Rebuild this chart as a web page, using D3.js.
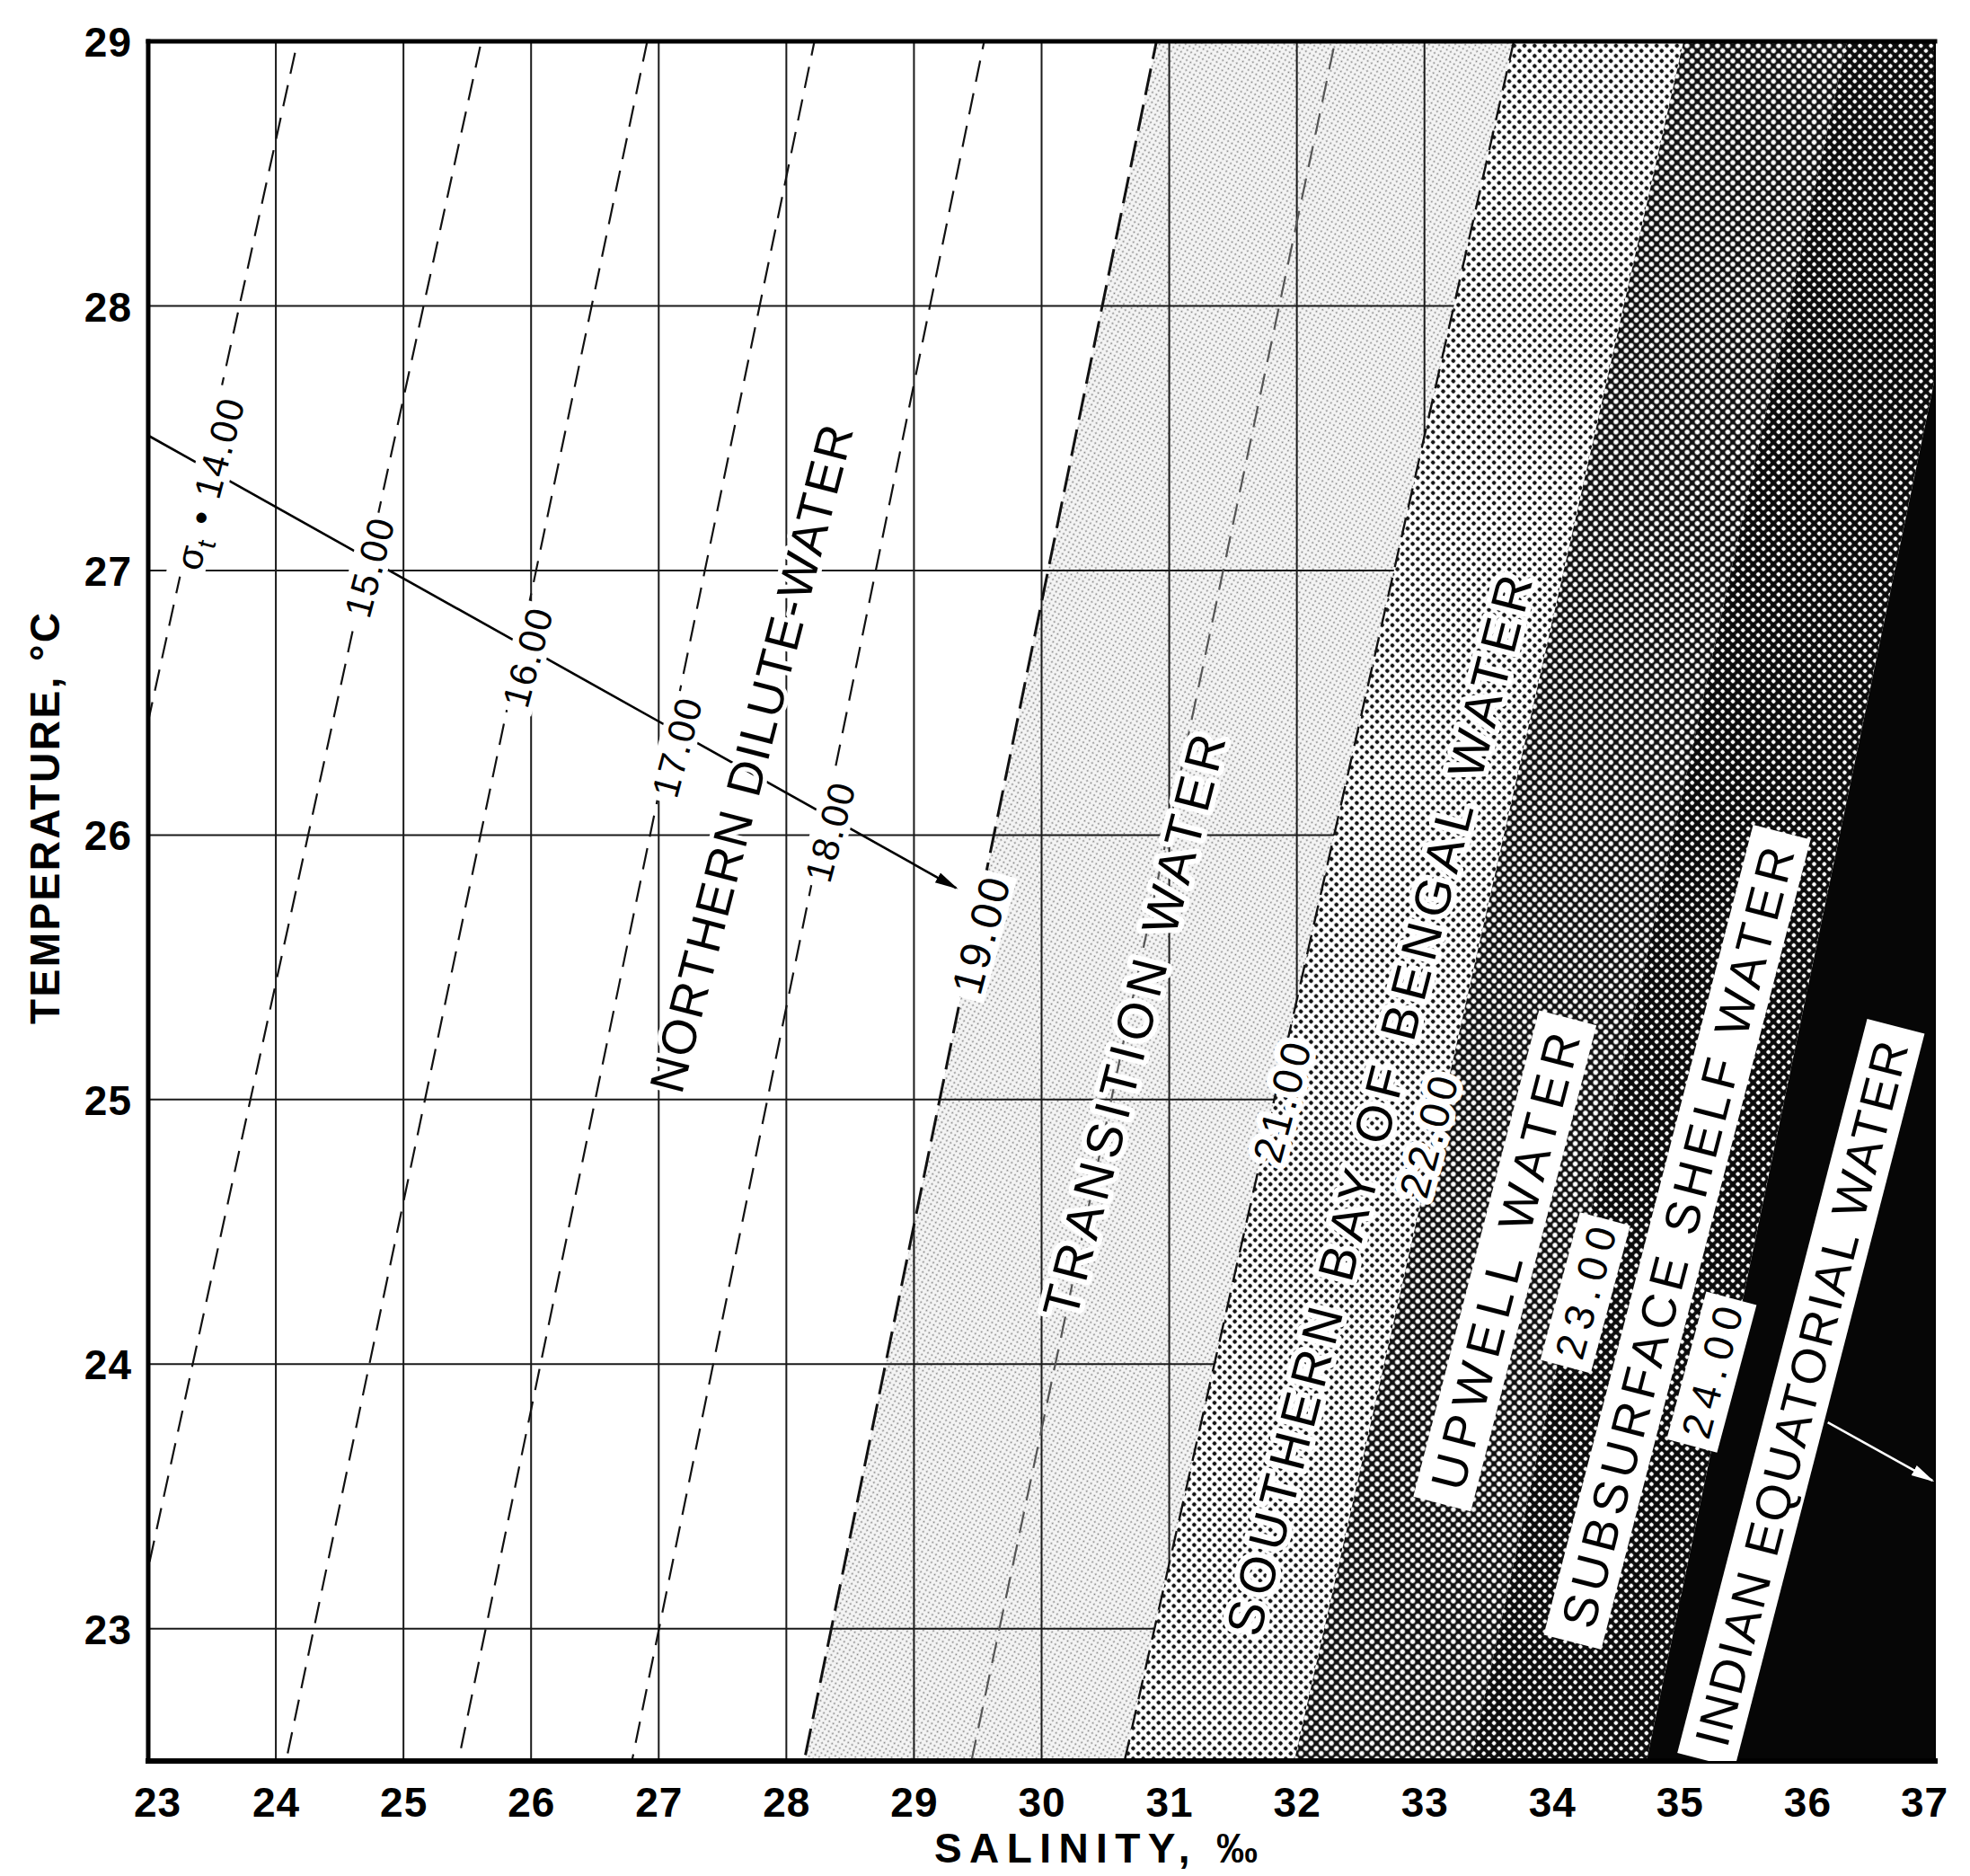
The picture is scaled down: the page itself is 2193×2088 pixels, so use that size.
<!DOCTYPE html>
<html>
<head>
<meta charset="utf-8">
<script src="https://cdn.jsdelivr.net/npm/d3@7"></script>
<style>
html,body{margin:0;padding:0;background:#fff;}
svg{display:block;}
</style>
</head>
<body>
<svg id="chart" width="2193" height="2088"></svg>
<script>
// ---------------- DATA ----------------
const salinityTicks = [23,24,25,26,27,28,29,30,31,32,33,34,35,36,37];
const temperatureTicks = [23,24,25,26,27,28,29];
// sigma-t isopycnals: salinity where each crosses T = 29 °C and T = 22.5 °C
const sigmaLevels        = [14,    15,    16,    17,    18,    19,    20,    21,    22,    23,    24];
const sigmaSalinityAt29  = [24.17, 25.61, 26.91, 28.22, 29.55, 30.90, 32.30, 33.70, 35.03, 36.31, 37.55];
const sigmaSalinityAt225 = [21.21, 22.67, 24.08, 25.43, 26.79, 28.14, 29.45, 30.65, 31.98, 33.36, 34.74];
// water masses, bounded by isopycnals (null = plot edge)
const waterMasses      = ["NORTHERN DILUTE-WATER","TRANSITION WATER","SOUTHERN BAY OF BENGAL WATER","UPWELL WATER","SUBSURFACE SHELF WATER","INDIAN EQUATORIAL WATER"];
const waterMassLower   = [null, 19, 21, 22, 23, 24];
const waterMassUpper   = [19,   21, 22, 23, 24, null];
const waterMassLabelS  = [27.72, 30.72, 32.64, 33.63, 34.98, 35.95];
const waterMassLabelT  = [26.29, 25.28, 24.98, 24.39, 24.48, 23.89];
// sigma-t value labels
const sigmaLabelText = ["14.00","15.00","16.00","17.00","18.00","19.00","21.00","22.00","23.00","24.00"];
const sigmaLabelS    = [23.48, 24.73, 25.97, 27.14, 28.34, 29.52, 31.88, 33.03, 34.26, 35.25];
const sigmaLabelT    = [27.33, 27.01, 26.67, 26.33, 26.01, 25.62, 24.99, 24.86, 24.27, 23.97];
// density-increase arrow (salinity, temperature)
const densityArrowS = [23.00, 29.33];
const densityArrowT = [27.51, 25.80];
// arrow pointing to Indian Equatorial Water
const equatorialArrowS = [36.16, 36.98];
const equatorialArrowT = [23.78, 23.56];

// ---------------- SCALES ----------------
const x = d3.scaleLinear().domain([23,37]).range([165,2154]);
const y = d3.scaleLinear().domain([22.5,29]).range([1960,46]);
const svg = d3.select("#chart");
const defs = svg.append("defs");
defs.append("clipPath").attr("id","plotClip").append("rect")
  .attr("x",x(23)).attr("y",y(29)).attr("width",x(37)-x(23)).attr("height",y(22.5)-y(29));

svg.append("rect").attr("width",2193).attr("height",2088).attr("fill","#fff");

function pattern(id,size,bg,dot,r,angle){
  const p = defs.append("pattern").attr("id",id).attr("patternUnits","userSpaceOnUse")
    .attr("width",size).attr("height",size).attr("patternTransform",`rotate(${angle})`);
  p.append("rect").attr("width",size).attr("height",size).attr("fill",bg);
  p.append("circle").attr("cx",size/2).attr("cy",size/2).attr("r",r).attr("fill",dot);
}
pattern("pTrans",5,"#f4f4f4","#7c7c7c",0.95,30);
pattern("pSouth",8,"#ffffff","#141414",2.35,45);
pattern("pUpwell",8,"#121212","#ffffff",2.7,45);
pattern("pShelf",8,"#0c0c0c","#ffffff",2.3,45);
const massFill = [null,"url(#pTrans)","url(#pSouth)","url(#pUpwell)","url(#pShelf)","#060606"];

function marker(id,color){
  defs.append("marker").attr("id",id).attr("viewBox","0 0 10 10").attr("refX",9).attr("refY",5)
    .attr("markerUnits","userSpaceOnUse").attr("markerWidth",26).attr("markerHeight",26).attr("orient","auto")
    .append("path").attr("d","M0,2.6 L10,5 L0,7.4 Z").attr("fill",color);
}
marker("arrB","#000");
marker("arrW","#fff");

const idx = s => sigmaLevels.indexOf(s);
function massPolygon(i){
  const lo = waterMassLower[i], hi = waterMassUpper[i];
  const lt = lo===null ? 22 : sigmaSalinityAt29[idx(lo)];
  const lb = lo===null ? 22 : sigmaSalinityAt225[idx(lo)];
  const ut = hi===null ? 38 : sigmaSalinityAt29[idx(hi)];
  const ub = hi===null ? 38 : sigmaSalinityAt225[idx(hi)];
  return [[lt,29],[ut,29],[ub,22.5],[lb,22.5]].map(p=>[x(p[0]),y(p[1])]);
}
const line = d3.line();

// ---------------- TRANSITION SHADE ----------------
const plotG = svg.append("g").attr("clip-path","url(#plotClip)");
plotG.append("path").attr("d",line(massPolygon(1))+"Z").attr("fill",massFill[1]);

// ---------------- GRID ----------------
plotG.selectAll("line.vgrid").data(salinityTicks.filter(d=>d>23&&d<37)).join("line")
  .attr("class","vgrid").attr("x1",d=>x(d)).attr("x2",d=>x(d)).attr("y1",y(29)).attr("y2",y(22.5))
  .attr("stroke","#1a1a1a").attr("stroke-width",2);
plotG.selectAll("line.hgrid").data(temperatureTicks.filter(d=>d<29)).join("line")
  .attr("class","hgrid").attr("y1",d=>y(d)).attr("y2",d=>y(d)).attr("x1",x(23)).attr("x2",x(37))
  .attr("stroke","#1a1a1a").attr("stroke-width",2);

// ---------------- ISOPYCNALS (dashed) ----------------
const iso = sigmaLevels.map((s,i)=>({s, top:sigmaSalinityAt29[i], bot:sigmaSalinityAt225[i]}));
plotG.selectAll("line.iso").data(iso.filter(d=>d.s<=20)).join("line")
  .attr("class","iso")
  .attr("x1",d=>x(d.top)).attr("y1",y(29)).attr("x2",d=>x(d.bot)).attr("y2",y(22.5))
  .attr("stroke",d=>d.s===20?"#555":"#111")
  .attr("stroke-width",d=>d.s===19?3:2.2)
  .attr("stroke-dasharray",d=>d.s===19?"30,11":"24,13")
  .attr("stroke-dashoffset",d=>d.s*7);

// ---------------- DARKER WATER MASSES ----------------
[2,3,4,5].forEach(i=>{
  plotG.append("path").attr("d",line(massPolygon(i))+"Z").attr("fill",massFill[i]);
});
plotG.selectAll("line.iso21").data(iso.filter(d=>d.s===21)).join("line")
  .attr("class","iso21")
  .attr("x1",d=>x(d.top)).attr("y1",y(29)).attr("x2",d=>x(d.bot)).attr("y2",y(22.5))
  .attr("stroke","#111").attr("stroke-width",2.4).attr("stroke-dasharray","22,12");

// ---------------- FRAME ----------------
const frame = svg.append("g").attr("stroke","#000").attr("stroke-linecap","square");
frame.append("line").attr("x1",x(23)).attr("x2",x(37)).attr("y1",y(29)).attr("y2",y(29)).attr("stroke-width",5);
frame.append("line").attr("x1",x(23)).attr("x2",x(23)).attr("y1",y(29)).attr("y2",y(22.5)).attr("stroke-width",5);
frame.append("line").attr("x1",x(23)).attr("x2",x(37)).attr("y1",y(22.5)).attr("y2",y(22.5)).attr("stroke-width",6);
frame.append("line").attr("x1",x(37)).attr("x2",x(37)).attr("y1",y(29)).attr("y2",y(22.5)).attr("stroke-width",2);

// ---------------- ARROWS ----------------
svg.append("line")
  .attr("x1",x(densityArrowS[0])).attr("y1",y(densityArrowT[0]))
  .attr("x2",x(densityArrowS[1])).attr("y2",y(densityArrowT[1]))
  .attr("stroke","#000").attr("stroke-width",2.6).attr("marker-end","url(#arrB)");
svg.append("line")
  .attr("x1",x(equatorialArrowS[0])).attr("y1",y(equatorialArrowT[0]))
  .attr("x2",x(equatorialArrowS[1])).attr("y2",y(equatorialArrowT[1]))
  .attr("stroke","#fff").attr("stroke-width",2.6).attr("marker-end","url(#arrW)");

// ---------------- LABELS ----------------
const labelFont = "'Liberation Sans', Arial, sans-serif";
const massStyle = [
  {len:765, fs:54, halo:10},
  {len:668, fs:56, halo:12},
  {len:1216,fs:56, halo:12},
  {len:523, fs:54, box:[66,18]},
  {len:895, fs:54, box:[66,18]},
  {len:808, fs:54, box:[66,18]}
];
const lblG = svg.append("g").attr("clip-path","url(#plotClip)");
waterMasses.forEach((t,i)=>{
  const st = massStyle[i];
  const g = lblG.append("g").attr("transform",`translate(${x(waterMassLabelS[i])},${y(waterMassLabelT[i])}) rotate(-75.5)`);
  if(st.box){
    g.append("rect").attr("x",-st.len/2-st.box[1]).attr("y",-st.box[0]/2)
      .attr("width",st.len+2*st.box[1]).attr("height",st.box[0]).attr("fill","#fff");
  }
  const tx = g.append("text").attr("text-anchor","middle").attr("dy","0.36em")
    .attr("font-family",labelFont).attr("font-size",st.fs).attr("fill","#000")
    .attr("textLength",st.len).attr("lengthAdjust","spacing").text(t);
  if(st.halo){
    tx.attr("stroke","#fff").attr("stroke-width",st.halo).attr("stroke-linejoin","round").attr("paint-order","stroke");
  }
});

const sigStyle = [
  {len:206, fs:42, gap:[42,6]},
  {len:112, fs:42, gap:[42,6]},
  {len:112, fs:42, gap:[42,6]},
  {len:112, fs:42, gap:[42,6]},
  {len:112, fs:42, gap:[42,6]},
  {len:132, fs:48, gap:[46,6]},
  {len:136, fs:46, halo:14},
  {len:138, fs:46, halo:14},
  {len:150, fs:46, box:[58,10]},
  {len:150, fs:46, box:[58,10]}
];
sigmaLabelText.forEach((t,i)=>{
  const st = sigStyle[i];
  const g = lblG.append("g").attr("transform",`translate(${x(sigmaLabelS[i])},${y(sigmaLabelT[i])}) rotate(-75)`);
  const b = st.box || st.gap;
  if(b){
    g.append("rect").attr("x",-st.len/2-b[1]).attr("y",-b[0]/2)
      .attr("width",st.len+2*b[1]).attr("height",b[0]).attr("fill","#fff");
  }
  const tx = g.append("text").attr("text-anchor","middle").attr("dy","0.36em")
    .attr("font-family",labelFont).attr("font-size",st.fs).attr("fill","#000");
  if(i===0){
    tx.attr("letter-spacing",2);
    tx.append("tspan").text("σ");
    tx.append("tspan").attr("font-size",st.fs*0.7).attr("dy",9).text("t");
    tx.append("tspan").attr("dy",-9).text(" • " + t);
  } else {
    tx.attr("textLength",st.len).attr("lengthAdjust","spacing").text(t);
  }
  if(st.halo){
    tx.attr("stroke","#fff").attr("stroke-width",st.halo).attr("stroke-linejoin","round").attr("paint-order","stroke");
  }
});

// ---------------- AXES ----------------
const tickFont = "'Liberation Sans', Arial, sans-serif";
const xAxisG = svg.append("g").attr("transform",`translate(0,${y(22.5)})`)
  .call(d3.axisBottom(x).tickValues(salinityTicks).tickSize(0).tickPadding(29).tickFormat(d3.format("d")));
xAxisG.select(".domain").remove();
xAxisG.attr("font-family",tickFont).attr("font-size",46).attr("font-weight","bold");
xAxisG.selectAll(".tick text").attr("fill","#000").attr("letter-spacing",1)
  .attr("dx",d=>d===23?10:(d===37?-12:0));

const yAxisG = svg.append("g").attr("transform",`translate(${x(23)},0)`)
  .call(d3.axisLeft(y).tickValues(temperatureTicks).tickSize(0).tickPadding(18).tickFormat(d3.format("d")));
yAxisG.select(".domain").remove();
yAxisG.attr("font-family",tickFont).attr("font-size",46).attr("font-weight","bold");
yAxisG.selectAll(".tick text").attr("fill","#000").attr("letter-spacing",1).attr("dy","0.36em");

svg.append("text").attr("x",1220).attr("y",2073).attr("text-anchor","middle")
  .attr("font-family",tickFont).attr("font-size",46).attr("font-weight","bold")
  .attr("textLength",360).attr("lengthAdjust","spacing").text("SALINITY, ‰");
svg.append("text").attr("transform","translate(66,911) rotate(-90)").attr("text-anchor","middle")
  .attr("font-family",tickFont).attr("font-size",46).attr("font-weight","bold")
  .attr("textLength",458).attr("lengthAdjust","spacing").text("TEMPERATURE, °C");
</script>
</body>
</html>
